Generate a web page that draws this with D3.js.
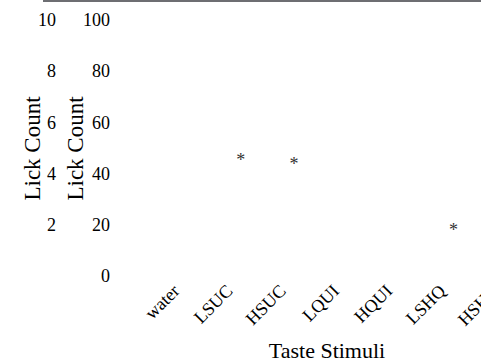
<!DOCTYPE html>
<html>
<head>
<meta charset="utf-8">
<script src="https://cdn.jsdelivr.net/npm/d3@7/dist/d3.min.js"></script>
<style>
  html, body { margin: 0; padding: 0; background: #fff; }
  svg { display: block; }
</style>
</head>
<body>
<svg id="chart" width="481" height="364"></svg>
<script>
// Taste stimuli and significance markers
const categories = ["water", "LSUC", "HSUC", "LQUI", "HQUI", "LSHQ", "HSHQ"];
const markerCategories = ["LSUC", "HSUC", "LSHQ"];
const markerValues = [46.5, 45, 19.5];
const ticksOuter = [2, 4, 6, 8, 10];
const ticksInner = [0, 20, 40, 60, 80, 100];

const FONT = "'Liberation Serif', 'Times New Roman', Times, serif";
const svg = d3.select("#chart").style("font-family", FONT);
const W = 481;

const x = d3.scaleBand().domain(categories).range([161, 533.4]).padding(0);
const y = d3.scaleLinear().domain([0, 100]).range([276, 20]);
const yOuter = d3.scaleLinear().domain([0, 10]).range([276, 20]);

// frame edge along the top
svg.append("line")
  .attr("x1", 43).attr("x2", W)
  .attr("y1", 1).attr("y2", 1)
  .attr("stroke", "#6d6e72").attr("stroke-width", 2);

function styleAxis(g) {
  g.attr("font-family", FONT).attr("font-size", 18);
  g.select(".domain").remove();
  g.selectAll("text").attr("fill", "#000");
}

// outer axis (0-10)
svg.append("g")
  .attr("transform", "translate(56,0)")
  .call(d3.axisLeft(yOuter).tickValues(ticksOuter).tickSize(0).tickPadding(0))
  .call(styleAxis);

// inner axis (0-100)
svg.append("g")
  .attr("transform", "translate(110,0)")
  .call(d3.axisLeft(y).tickValues(ticksInner).tickSize(0).tickPadding(0))
  .call(styleAxis);

// y titles
[40, 83].forEach(bx => {
  svg.append("text")
    .attr("transform", `translate(${bx},148.5) rotate(-90)`)
    .attr("text-anchor", "middle")
    .attr("font-family", FONT)
    .attr("font-size", 23)
    .attr("fill", "#000")
    .text("Lick Count");
});

// category labels
svg.append("g").selectAll("text")
  .data(categories)
  .join("text")
  .attr("transform", d => `translate(${x(d) + x.bandwidth() / 2 - 7},292) rotate(-45)`)
  .attr("text-anchor", "end")
  .attr("font-family", FONT)
  .attr("font-size", 18)
  .attr("fill", "#000")
  .text(d => d);

// x title
svg.append("text")
  .attr("x", 327).attr("y", 358)
  .attr("text-anchor", "middle")
  .attr("font-family", FONT)
  .attr("font-size", 22)
  .attr("fill", "#000")
  .text("Taste Stimuli");

// significance asterisks
svg.append("g").selectAll("text")
  .data(markerCategories.map((c, i) => ({ c, v: markerValues[i] })))
  .join("text")
  .attr("x", d => x(d.c) + x.bandwidth() / 2)
  .attr("y", d => y(d.v) + 9.5)
  .attr("text-anchor", "middle")
  .attr("font-family", FONT)
  .attr("font-size", 18)
  .attr("fill", "#333")
  .text("*");
</script>
</body>
</html>
